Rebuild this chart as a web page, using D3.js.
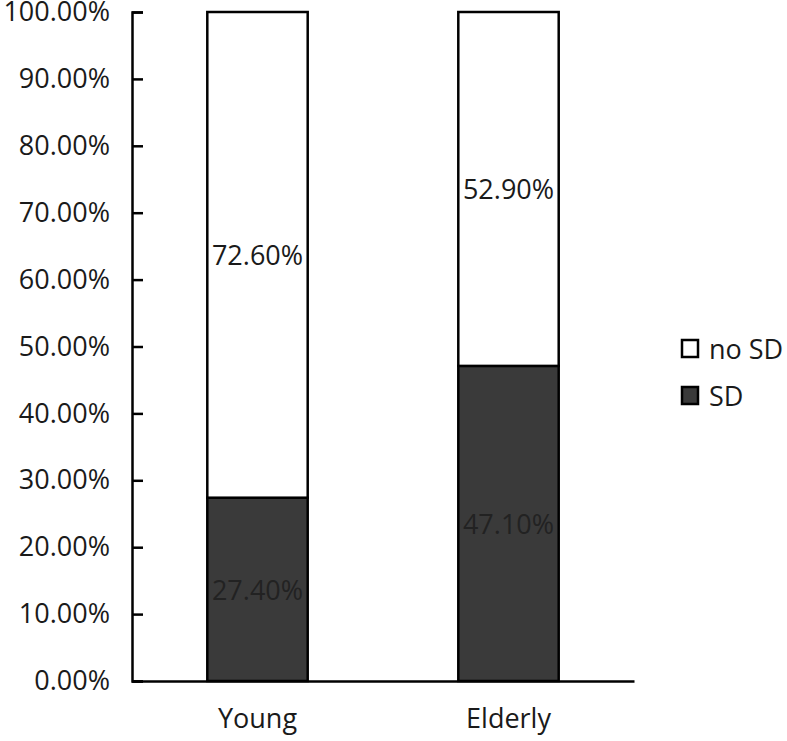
<!DOCTYPE html>
<html>
<head>
<meta charset="utf-8">
<script src="https://cdn.jsdelivr.net/npm/d3@7"></script>
<style>
  body { margin: 0; background: #fff; }
  svg text { font-family: "Open Sans", sans-serif; fill: #1a1a1a; }
</style>
</head>
<body>
<svg id="chart" width="787" height="741"></svg>
<script>
// data
const categories = ["Young", "Elderly"];
const sdValues = [27.4, 47.1];
const noSdValues = [72.6, 52.9];
const seriesNames = ["no SD", "SD"];
const yTicks = [0, 10, 20, 30, 40, 50, 60, 70, 80, 90, 100];

const svg = d3.select("#chart");
const plotLeft = 132, plotRight = 634, plotTop = 12, plotBottom = 681;
const fontSize = 27;

const x = d3.scaleBand().domain(categories).range([plotLeft, plotRight]).paddingInner(0.6).paddingOuter(0.3);
const y = d3.scaleLinear().domain([0, 100]).range([plotBottom, plotTop]);

const rows = categories.map((c, i) => ({cat: c, sd: sdValues[i], nosd: noSdValues[i]}));
const stack = d3.stack().keys(["sd", "nosd"])(rows);
const fills = {sd: "#3a3a3a", nosd: "#ffffff"};

// bars
stack.forEach(layer => {
	svg.append("g")
		.selectAll("rect")
		.data(layer)
		.enter()
		.append("rect")
		.attr("x", d => x(d.data.cat))
		.attr("y", d => y(d[1]))
		.attr("width", x.bandwidth())
		.attr("height", d => y(d[0]) - y(d[1]))
		.attr("fill", fills[layer.key])
		.attr("stroke", "#000")
		.attr("stroke-width", 2.5);

	// value labels, centred in each segment
	svg.append("g")
		.selectAll("text")
		.data(layer)
		.enter()
		.append("text")
		.attr("x", d => x(d.data.cat) + x.bandwidth() / 2)
		.attr("y", d => (y(d[0]) + y(d[1])) / 2)
		.attr("text-anchor", "middle")
		.attr("dominant-baseline", "central")
		.attr("font-size", fontSize)
		.style("fill", layer.key === "sd" ? "#222" : "#1a1a1a")
		.text(d => (d[1] - d[0]).toFixed(2) + "%");
});

// y axis (ticks point inward)
const yAxis = d3.axisLeft(y).tickValues(yTicks).tickFormat(d => d.toFixed(2) + "%").tickSize(-11).tickPadding(22);
const ya = svg.append("g").attr("transform", `translate(${plotLeft},0)`).call(yAxis);
ya.select(".domain").attr("stroke", "#000").attr("stroke-width", 2.5);
ya.selectAll(".tick line").attr("stroke", "#000").attr("stroke-width", 2.5);
ya.selectAll(".tick text").attr("font-size", fontSize).attr("font-family", "Open Sans, sans-serif").attr("fill", "#1a1a1a");

// x axis
const xAxis = d3.axisBottom(x).tickSize(0).tickPadding(28);
const xa = svg.append("g").attr("transform", `translate(0,${plotBottom})`).call(xAxis);
xa.select(".domain").attr("stroke", "#000").attr("stroke-width", 2.5);
xa.selectAll(".tick text").attr("font-size", fontSize).attr("font-family", "Open Sans, sans-serif").attr("fill", "#1a1a1a");

// legend
const legend = svg.append("g").attr("transform", "translate(682,340)");
seriesNames.forEach((name, i) => {
	const g = legend.append("g").attr("transform", `translate(0,${i * 47})`);
	g.append("rect")
		.attr("width", 16).attr("height", 17)
		.attr("fill", i === 0 ? fills.nosd : fills.sd)
		.attr("stroke", "#000").attr("stroke-width", 2.5);
	g.append("text")
		.attr("x", 27).attr("y", 8.5)
		.attr("dominant-baseline", "central")
		.attr("font-size", fontSize)
		.text(name);
});
</script>
</body>
</html>
